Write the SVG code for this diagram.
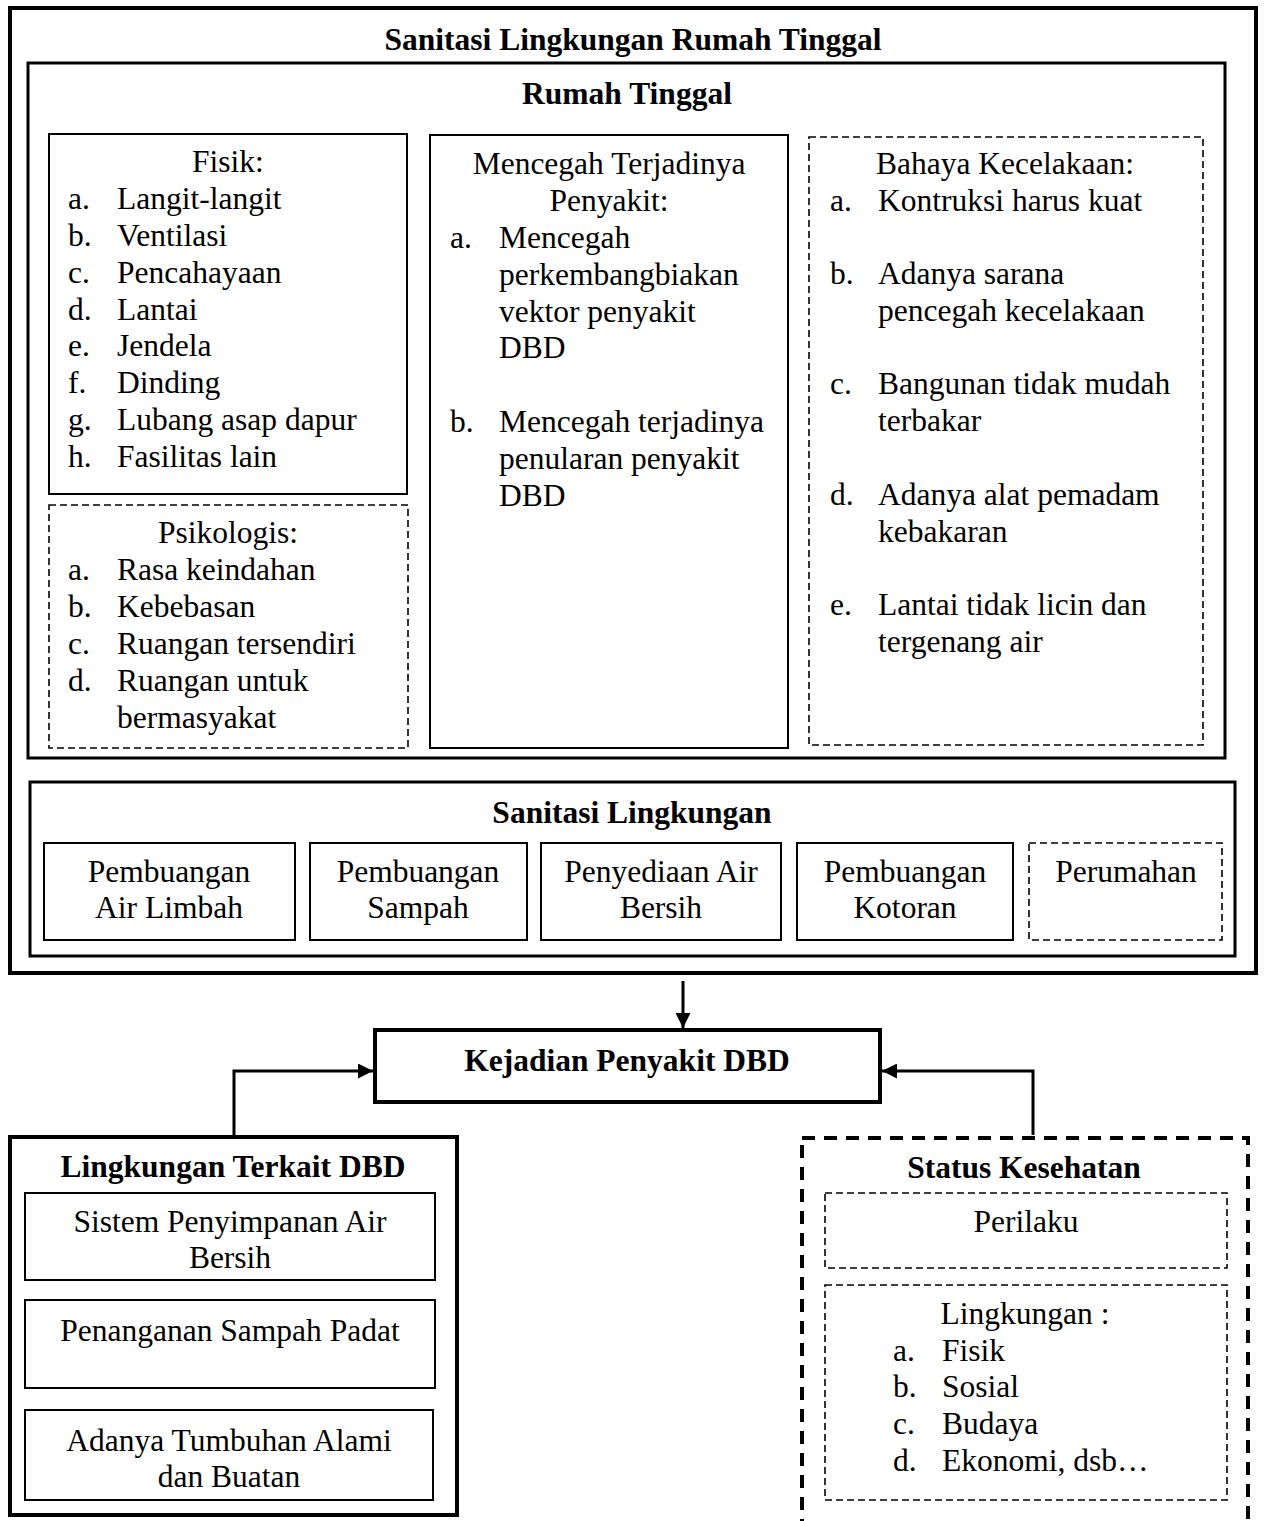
<svg xmlns="http://www.w3.org/2000/svg" width="1264" height="1521" viewBox="0 0 1264 1521">
<defs>
<style>
text{font-family:"Liberation Serif","Times New Roman",serif;font-size:31.5px;fill:#000}
.b{font-weight:bold}
.c{text-anchor:middle}
.box{fill:none;stroke:#000}
.s4{stroke-width:4}
.s3{stroke-width:3}
.s2{stroke-width:2}
.d{stroke-width:1.6;stroke-dasharray:7 4}
.dd{stroke-width:4;stroke-dasharray:13 9}
.conn{fill:none;stroke:#000;stroke-width:3}
</style>
<marker id="ah" viewBox="0 0 10 10" refX="10" refY="5" markerWidth="5" markerHeight="5" orient="auto" markerUnits="strokeWidth">
<path d="M0,0 L10,5 L0,10 z" fill="#000"/>
</marker>
</defs>
<rect width="1264" height="1521" fill="#fff"/>

<g id="sanitasi-lingkungan-rumah-tinggal">
<rect class="box s4" x="10" y="8" width="1246" height="965"/>
<text class="b c" x="633" y="50">Sanitasi Lingkungan Rumah Tinggal</text>
</g>

<g id="rumah-tinggal">
<rect class="box s3" x="28" y="63" width="1197" height="695"/>
<text class="b c" x="627" y="104">Rumah Tinggal</text>
</g>

<g id="fisik">
<rect class="box s2" x="49" y="134" width="358" height="360"/>
<text class="c" x="228" y="172">Fisik:</text>
<text x="68" y="209">a.</text><text x="117" y="209">Langit-langit</text>
<text x="68" y="246">b.</text><text x="117" y="246">Ventilasi</text>
<text x="68" y="283">c.</text><text x="117" y="283">Pencahayaan</text>
<text x="68" y="320">d.</text><text x="117" y="320">Lantai</text>
<text x="68" y="356">e.</text><text x="117" y="356">Jendela</text>
<text x="68" y="393">f.</text><text x="117" y="393">Dinding</text>
<text x="68" y="430">g.</text><text x="117" y="430">Lubang asap dapur</text>
<text x="68" y="467">h.</text><text x="117" y="467">Fasilitas lain</text>
</g>

<g id="psikologis">
<rect class="box d" x="49" y="505" width="359" height="243"/>
<text class="c" x="228" y="543">Psikologis:</text>
<text x="68" y="580">a.</text><text x="117" y="580">Rasa keindahan</text>
<text x="68" y="617">b.</text><text x="117" y="617">Kebebasan</text>
<text x="68" y="654">c.</text><text x="117" y="654">Ruangan tersendiri</text>
<text x="68" y="691">d.</text><text x="117" y="691">Ruangan untuk</text>
<text x="117" y="728">bermasyakat</text>
</g>

<g id="mencegah">
<rect class="box s2" x="430" y="135" width="358" height="613"/>
<text class="c" x="609" y="174">Mencegah Terjadinya</text>
<text class="c" x="609" y="211">Penyakit:</text>
<text x="450" y="248">a.</text><text x="499" y="248">Mencegah</text>
<text x="499" y="285">perkembangbiakan</text>
<text x="499" y="322">vektor penyakit</text>
<text x="499" y="358">DBD</text>
<text x="450" y="432">b.</text><text x="499" y="432">Mencegah terjadinya</text>
<text x="499" y="469">penularan penyakit</text>
<text x="499" y="506">DBD</text>
</g>

<g id="bahaya-kecelakaan">
<rect class="box d" x="809" y="137" width="394" height="608"/>
<text class="c" x="1005" y="174">Bahaya Kecelakaan:</text>
<text x="830" y="211">a.</text><text x="878" y="211">Kontruksi harus kuat</text>
<text x="830" y="284">b.</text><text x="878" y="284">Adanya sarana</text>
<text x="878" y="321">pencegah kecelakaan</text>
<text x="830" y="394">c.</text><text x="878" y="394">Bangunan tidak mudah</text>
<text x="878" y="431">terbakar</text>
<text x="830" y="505">d.</text><text x="878" y="505">Adanya alat pemadam</text>
<text x="878" y="542">kebakaran</text>
<text x="830" y="615">e.</text><text x="878" y="615">Lantai tidak licin dan</text>
<text x="878" y="652">tergenang air</text>
</g>

<g id="sanitasi-lingkungan">
<rect class="box s3" x="30" y="782" width="1205" height="174"/>
<text class="b c" x="632" y="823">Sanitasi Lingkungan</text>
</g>

<g id="air-limbah">
<rect class="box s2" x="44" y="843" width="251" height="97"/>
<text class="c" x="169" y="882">Pembuangan</text>
<text class="c" x="169" y="918">Air Limbah</text>
</g>
<g id="sampah">
<rect class="box s2" x="310" y="843" width="217" height="97"/>
<text class="c" x="418" y="882">Pembuangan</text>
<text class="c" x="418" y="918">Sampah</text>
</g>
<g id="air-bersih">
<rect class="box s2" x="541" y="843" width="240" height="97"/>
<text class="c" x="661" y="882">Penyediaan Air</text>
<text class="c" x="661" y="918">Bersih</text>
</g>
<g id="kotoran">
<rect class="box s2" x="797" y="843" width="216" height="97"/>
<text class="c" x="905" y="882">Pembuangan</text>
<text class="c" x="905" y="918">Kotoran</text>
</g>
<g id="perumahan">
<rect class="box d" x="1029" y="843" width="193" height="97"/>
<text class="c" x="1126" y="882">Perumahan</text>
</g>

<g id="kejadian">
<rect class="box s4" x="375" y="1030" width="505" height="72"/>
<text class="b c" x="627" y="1071">Kejadian Penyakit DBD</text>
</g>

<g id="lingkungan-terkait">
<rect class="box s4" x="10" y="1137" width="447" height="378"/>
<text class="b c" x="233" y="1177">Lingkungan Terkait DBD</text>
</g>
<g id="penyimpanan-air">
<rect class="box s2" x="25" y="1193" width="410" height="87"/>
<text class="c" x="230" y="1232">Sistem Penyimpanan Air</text>
<text class="c" x="230" y="1268">Bersih</text>
</g>
<g id="sampah-padat">
<rect class="box s2" x="25" y="1300" width="410" height="88"/>
<text class="c" x="230" y="1341">Penanganan Sampah Padat</text>
</g>
<g id="tumbuhan">
<rect class="box s2" x="25" y="1410" width="408" height="90"/>
<text class="c" x="229" y="1451">Adanya Tumbuhan Alami</text>
<text class="c" x="229" y="1487">dan Buatan</text>
</g>

<g id="status-kesehatan">
<rect class="box dd" x="802" y="1138" width="446" height="400"/>
<text class="b c" x="1024" y="1178">Status Kesehatan</text>
</g>
<g id="perilaku">
<rect class="box d" x="825" y="1193" width="402" height="75"/>
<text class="c" x="1026" y="1232">Perilaku</text>
</g>
<g id="lingkungan">
<rect class="box d" x="825" y="1285" width="402" height="215"/>
<text class="c" x="1025" y="1324">Lingkungan :</text>
<text x="893" y="1361">a.</text><text x="942" y="1361">Fisik</text>
<text x="893" y="1397">b.</text><text x="942" y="1397">Sosial</text>
<text x="893" y="1434">c.</text><text x="942" y="1434">Budaya</text>
<text x="893" y="1471">d.</text><text x="942" y="1471">Ekonomi, dsb…</text>
</g>

<g id="connectors">
<path class="conn" d="M683,981 L683,1028" marker-end="url(#ah)"/>
<path class="conn" d="M234,1135 L234,1071 L373,1071" marker-end="url(#ah)"/>
<path class="conn" d="M1033,1135 L1033,1071 L882,1071" marker-end="url(#ah)"/>
</g>
</svg>
